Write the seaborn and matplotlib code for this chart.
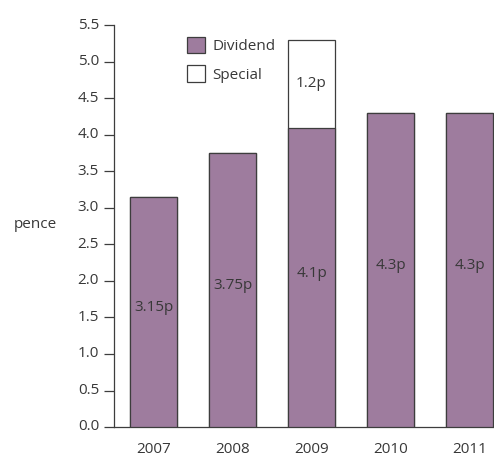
import matplotlib
matplotlib.use("Agg")
import matplotlib.pyplot as plt
from matplotlib.patches import Patch
from matplotlib.transforms import ScaledTranslation
import seaborn as sns
import pandas as pd

years = ["2007", "2008", "2009", "2010", "2011"]
dividend = [3.15, 3.75, 4.1, 4.3, 4.3]
special = [0.0, 0.0, 1.2, 0.0, 0.0]
dividend_labels = ["3.15p", "3.75p", "4.1p", "4.3p", "4.3p"]
special_labels = ["", "", "1.2p", "", ""]
yticks = [0.0, 0.5, 1.0, 1.5, 2.0, 2.5, 3.0, 3.5, 4.0, 4.5, 5.0, 5.5]

PURPLE = "#9e7c9e"
EDGE = "#3d3d3d"
TEXT = "#383838"

sns.set_theme(style="white")
plt.rcParams["font.family"] = ["Open Sans", "DejaVu Sans"]

df = pd.DataFrame({
    "year": years,
    "dividend": dividend,
    "special": special,
})
df["total"] = df["dividend"] + df["special"]

fig = plt.figure(figsize=(4.94, 4.57), dpi=100)
ax = fig.add_axes([0.230, 0.0656, 0.770, 0.879])

# stacked bars: total (special on top) drawn first, dividend over it
sns.barplot(data=df, x="year", y="total", color="white", edgecolor=EDGE,
            linewidth=0.9, width=0.6, saturation=1, ax=ax, zorder=2)
sns.barplot(data=df, x="year", y="dividend", color=PURPLE, edgecolor=EDGE,
            linewidth=0.9, width=0.6, saturation=1, ax=ax, zorder=3)

fs = 11
off = ScaledTranslation(0, 3 / 72, fig.dpi_scale_trans)
for i, (d, s) in enumerate(zip(dividend, special)):
    ax.text(i, d / 2, dividend_labels[i], ha="center", va="center",
            fontsize=fs, color=TEXT, zorder=5,
            transform=ax.transData + off)
    if s > 0:
        ax.text(i, d + s / 2, special_labels[i], ha="center", va="center",
                fontsize=fs, color=TEXT, zorder=5)

ax.set_xlim(-0.505, 4.31)
ax.set_ylim(0, 5.5)
ax.set_yticks(yticks)
ax.set_yticklabels([f"{t:.1f}" for t in yticks])
ax.set_xlabel("")
ax.set_ylabel("")

for side in ["top", "right"]:
    ax.spines[side].set_visible(False)
for side in ["left", "bottom"]:
    ax.spines[side].set_color(EDGE)
    ax.spines[side].set_linewidth(0.9)

ax.tick_params(axis="y", which="major", left=True, length=7, width=0.9,
               color=EDGE, pad=3.5, labelsize=fs, labelcolor=TEXT)
ax.tick_params(axis="x", which="major", bottom=False, length=0, pad=10.5,
               labelsize=fs, labelcolor=TEXT)
for lab in ax.get_yticklabels():
    lab.set_transform(lab.get_transform() + ScaledTranslation(0, 1.6 / 72, fig.dpi_scale_trans))

handles = [Patch(facecolor=PURPLE, edgecolor=EDGE, linewidth=0.9, label="Dividend"),
           Patch(facecolor="white", edgecolor=EDGE, linewidth=0.9, label="Special")]
leg = ax.legend(handles=handles, loc="upper left", bbox_to_anchor=(0.192, 0.972),
                frameon=False, fontsize=fs, handlelength=1.2, handleheight=1.3,
                handletextpad=0.5, labelspacing=0.75, borderpad=0, borderaxespad=0)
for t in leg.get_texts():
    t.set_color(TEXT)

fig.text(0.071, 0.508, "pence", ha="center", va="center", fontsize=fs, color=TEXT)

fig.savefig("out.png", dpi=100)
